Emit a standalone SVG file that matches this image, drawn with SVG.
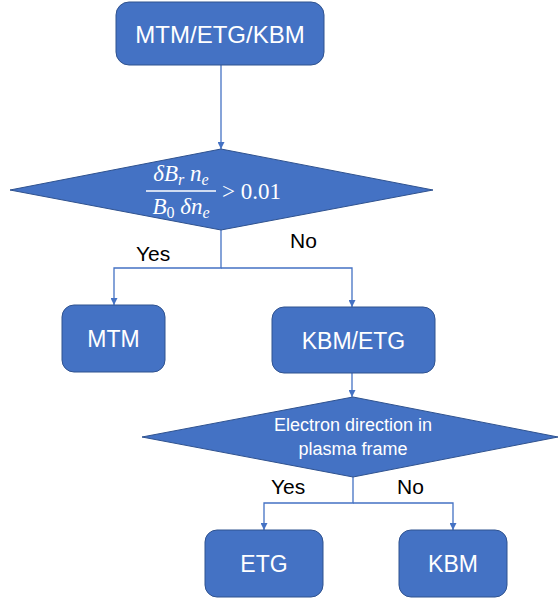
<svg xmlns="http://www.w3.org/2000/svg" width="560" height="602" viewBox="0 0 560 602">
<defs>
<marker id="ah" viewBox="0 0 10 10" refX="10" refY="5" markerWidth="7" markerHeight="7" markerUnits="userSpaceOnUse" orient="auto">
<path d="M0,0 L10,5 L0,10 z" fill="#4472C4"/>
</marker>
<style>
.n{fill:#4472C4;stroke:#2F528F;stroke-width:1}
.t{font-family:"Liberation Sans",Arial,sans-serif;fill:#fff;text-anchor:middle}
.l{font-family:"Liberation Sans",Arial,sans-serif;fill:#000;font-size:21px}
.c{fill:none;stroke:#4472C4;stroke-width:1.3}
.m{font-family:"Liberation Serif","DejaVu Serif",serif;fill:#fff;font-size:23px}
</style>
</defs>
<rect width="560" height="602" fill="#fff"/>
<g id="connectors">
<path class="c" d="M221,65 V149" marker-end="url(#ah)"/>
<path class="c" d="M221,230 V268 H114 V305" marker-end="url(#ah)"/>
<path class="c" d="M221,268 H352 V307" marker-end="url(#ah)"/>
<path class="c" d="M352,373 V397" marker-end="url(#ah)"/>
<path class="c" d="M353,477 V503 H264 V530" marker-end="url(#ah)"/>
<path class="c" d="M353,503 H453 V530" marker-end="url(#ah)"/>
<text class="l" x="136" y="261">Yes</text>
<text class="l" x="290" y="248">No</text>
<text class="l" x="271" y="494">Yes</text>
<text class="l" x="397" y="494">No</text>
</g>
<g id="start">
<rect class="n" x="116" y="2" width="208" height="63" rx="13"/>
<text class="t" x="220" y="43" font-size="24">MTM/ETG/KBM</text>
</g>
<g id="decision1">
<polygon class="n" points="10,190 221,149 433,190 221,230"/>
<text class="m" x="181" y="181" text-anchor="middle"><tspan font-style="italic">δB</tspan><tspan font-style="italic" font-size="16" dy="4">r</tspan><tspan font-style="italic" dy="-4"> n</tspan><tspan font-style="italic" font-size="16" dy="4">e</tspan></text>
<line x1="146" y1="191" x2="216" y2="191" stroke="#fff" stroke-width="1.3"/>
<text class="m" x="181" y="214" text-anchor="middle"><tspan font-style="italic">B</tspan><tspan font-size="16" dy="4">0</tspan><tspan font-style="italic" dy="-4"> δn</tspan><tspan font-style="italic" font-size="16" dy="4">e</tspan></text>
<text class="m" x="222" y="199">&gt; 0.01</text>
</g>
<g id="mtm">
<rect class="n" x="62" y="305" width="103" height="67" rx="12"/>
<text class="t" x="113.5" y="347" font-size="23">MTM</text>
</g>
<g id="kbmetg">
<rect class="n" x="272" y="307" width="163" height="66" rx="12"/>
<text class="t" x="353.5" y="348.5" font-size="23">KBM/ETG</text>
</g>
<g id="decision2">
<polygon class="n" points="142,437 353,397 558,437 353,477"/>
<text class="t" x="353" y="431" font-size="18">Electron direction in</text>
<text class="t" x="353" y="455" font-size="18">plasma frame</text>
</g>
<g id="etg">
<rect class="n" x="205" y="530" width="118" height="67" rx="12"/>
<text class="t" x="264" y="572" font-size="23">ETG</text>
</g>
<g id="kbm">
<rect class="n" x="399" y="530" width="108" height="67" rx="12"/>
<text class="t" x="453" y="572" font-size="23">KBM</text>
</g>
</svg>
